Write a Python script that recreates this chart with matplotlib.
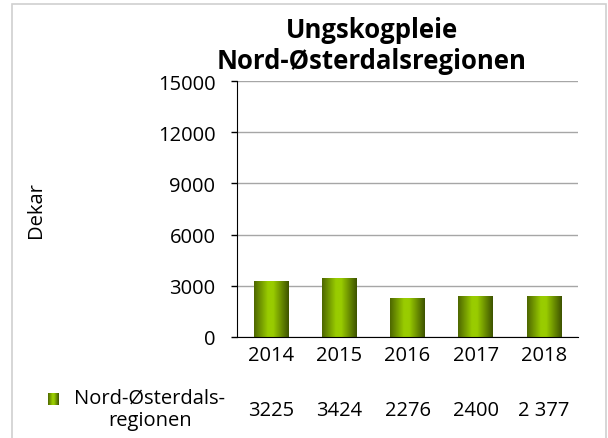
import numpy as np
import matplotlib.pyplot as plt
from matplotlib.colors import LinearSegmentedColormap
from matplotlib.patches import Rectangle
import matplotlib.transforms as mtransforms

plt.rcParams['font.family'] = ['Open Sans', 'DejaVu Sans']

# data
years = ['2014', '2015', '2016', '2017', '2018']
dekar = [3225, 3424, 2276, 2400, 2377]
value_labels = ['3225', '3424', '2276', '2400', '2 377']
series_name = 'Nord-Østerdals-\nregionen'

fs = 14.5

fig = plt.figure(figsize=(6.08, 4.39), dpi=100)
ax = fig.add_axes([237 / 608, 1 - 338 / 439, 341 / 608, 256 / 439])

# outer chart frame
fig.patches.append(Rectangle((12 / 608, -0.01), 594 / 608, 1 - 5 / 439 + 0.01,
                             transform=fig.transFigure, fill=False,
                             edgecolor='#d0d0d0', lw=1.2))

# green cylinder-like shading across each bar
cmap = LinearSegmentedColormap.from_list(
    'green', [(0, '#4d6600'), (0.4, '#99cc00'), (0.55, '#99cc00'), (1, '#3d5200')])
grad = np.linspace(0, 1, 256).reshape(1, -1)

x = np.arange(len(years))
bars = ax.bar(x, dekar, width=0.51, color='none', zorder=2)
for b in bars:
    x0, y0 = b.get_x(), b.get_y()
    ax.imshow(grad, cmap=cmap, aspect='auto', zorder=2,
              extent=(x0, x0 + b.get_width(), y0, y0 + b.get_height()))

ax.set_xlim(-0.5, len(years) - 0.5)
ax.set_ylim(0, 15000)
ax.set_yticks(np.arange(0, 15001, 3000))
ax.set_xticks(x)
ax.set_xticklabels(years)
ax.tick_params(axis='y', length=4.5, width=1, labelsize=fs, pad=11)
ax.tick_params(axis='x', length=0, labelsize=fs, pad=6)
ax.yaxis.grid(True, color='#a6a6a6', lw=1)
ax.set_axisbelow(True)
for s in ['top', 'right']:
    ax.spines[s].set_visible(False)
ax.spines['left'].set_color('black')
ax.spines['bottom'].set_color('black')

ax.set_ylabel('Dekar', fontsize=fs, labelpad=0)
ax.yaxis.set_label_coords(-0.56, 0.5)

fig.text(372 / 608, 1 - 46 / 439, 'Ungskogpleie\nNord-Østerdalsregionen',
         ha='center', va='center', fontsize=18.5, fontweight='bold', linespacing=1.15)

# data table row below the axis
trans = mtransforms.blended_transform_factory(ax.transData, fig.transFigure)
for xi, lab in zip(x, value_labels):
    ax.text(xi, 1 - 411 / 439, lab, transform=trans, ha='center', va='center',
            fontsize=fs, clip_on=False)
fig.text(150 / 608, 1 - 410 / 439, series_name, ha='center', va='center',
         fontsize=fs, linespacing=1.2)
key = fig.add_axes([48 / 608, 1 - 406 / 439, 11 / 608, 12 / 439])
key.imshow(grad, cmap=cmap, aspect='auto')
key.axis('off')

fig.savefig('out.png', dpi=100)
